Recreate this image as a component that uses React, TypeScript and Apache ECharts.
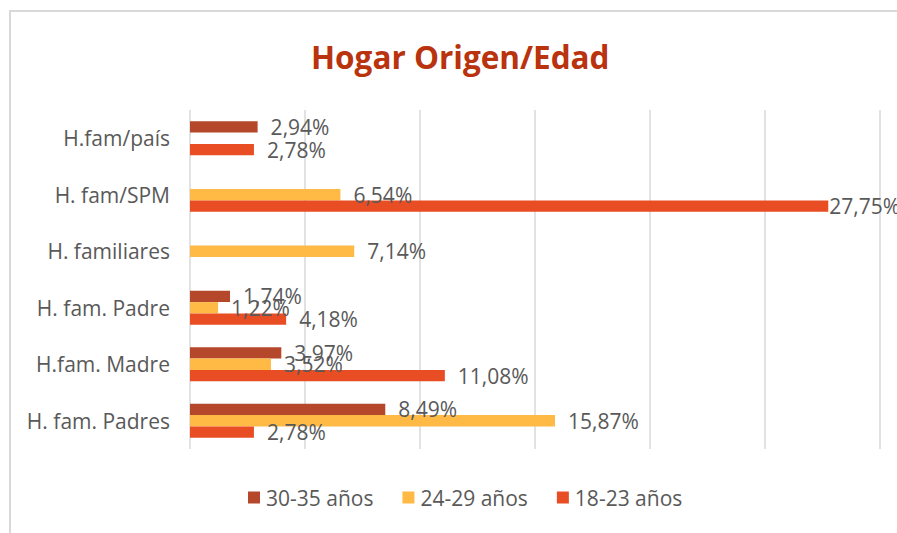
import React, { useEffect, useRef } from "react";
import * as echarts from "echarts";

const categories = ["H. fam. Padres", "H.fam. Madre", "H. fam. Padre", "H. familiares", "H. fam/SPM", "H.fam/país"];
const seriesNames = ["30-35 años", "24-29 años", "18-23 años"];
const values3035: (number | null)[] = [8.49, 3.97, 1.74, null, null, 2.94];
const values2429: (number | null)[] = [15.87, 3.52, 1.22, 7.14, 6.54, null];
const values1823: (number | null)[] = [2.78, 11.08, 4.18, null, 27.75, 2.78];
const colors = ["#B5472A", "#FFBA45", "#E84D23"];

const FONT = "'Open Sans', sans-serif";

export default function App() {
  const ref = useRef<HTMLDivElement>(null);
  useEffect(() => {
    const chart = echarts.init(ref.current!, null, { renderer: "svg" });
    const allValues = [values3035, values2429, values1823];
    chart.setOption({
      animation: false,
      backgroundColor: "#ffffff",
      textStyle: { fontFamily: FONT },
      title: {
        text: "Hogar Origen/Edad",
        left: 306,
        top: 35,
        textStyle: { color: "#B8330E", fontSize: 31.5, fontWeight: "bold", fontFamily: FONT },
      },
      graphic: [
        {
          type: "rect",
          shape: { x: 10, y: 11, width: 1000, height: 1000 },
          style: { fill: "none", stroke: "#D9D9D9", lineWidth: 2 },
          silent: true,
        },
      ],
      legend: {
        bottom: 20,
        left: 243,
        itemWidth: 12,
        itemHeight: 12,
        itemGap: 29,
        icon: "rect",
        data: seriesNames,
        textStyle: { color: "#595959", fontSize: 21, fontFamily: FONT, padding: [0, 0, 0, 1] },
      },
      grid: { left: 190, right: 17, top: 110, bottom: 84, containLabel: false },
      xAxis: {
        type: "value",
        min: 0,
        max: 30,
        interval: 5,
        axisLabel: { show: false },
        axisLine: { show: false },
        axisTick: { show: false },
        splitLine: { show: true, lineStyle: { color: "#D9D9D9", width: 1.5 } },
      },
      yAxis: {
        type: "category",
        data: categories,
        axisLine: { show: false },
        axisTick: { show: false },
        axisLabel: { color: "#595959", fontSize: 21, margin: 20, fontFamily: FONT },
      },
      series: seriesNames.map((name, i) => ({
        name,
        type: "bar",
        data: allValues[i].map((v) => {
          if (v === null) return "-";
          // labels that do not fit are pushed against the bar end, as in the original
          if (v > 25) return { value: v, label: { distance: 1 } };
          return v;
        }),
        itemStyle: { color: colors[i] },
        barGap: "0%",
        barCategoryGap: "40%",
        label: {
          show: true,
          position: "right",
          distance: 13,
          color: "#595959",
          fontSize: 21,
          fontFamily: FONT,
          formatter: (p: any) => Number(p.value).toFixed(2).replace(".", ",") + "%",
        },
      })),
    });
    return () => chart.dispose();
  }, []);
  return <div ref={ref} style={{ position: "absolute", left: 0, top: 0, width: 897, height: 533 }} />;
}
